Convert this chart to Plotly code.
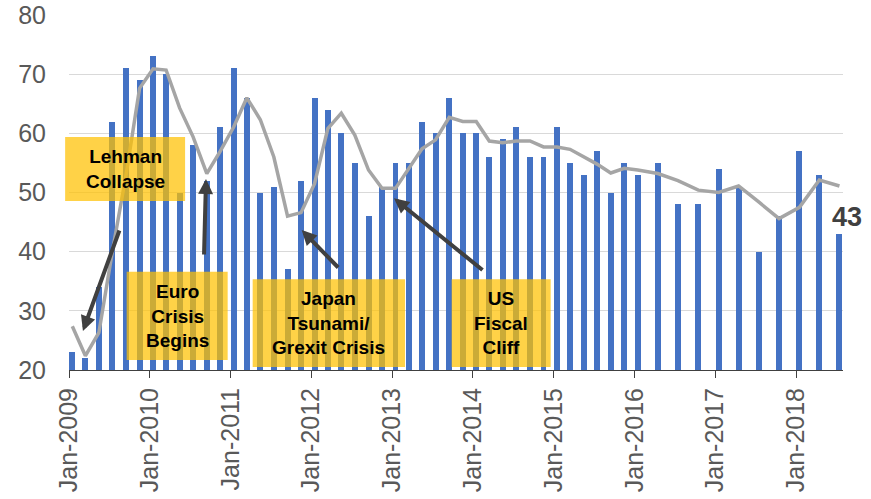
import plotly.graph_objects as go

# Survey month for each reading (bi-monthly to Jan-2016, then quarterly)
months = [
    "2009-01", "2009-03", "2009-05", "2009-07", "2009-09", "2009-11",
    "2010-01", "2010-03", "2010-05", "2010-07", "2010-09", "2010-11",
    "2011-01", "2011-03", "2011-05", "2011-07", "2011-09", "2011-11",
    "2012-01", "2012-03", "2012-05", "2012-07", "2012-09", "2012-11",
    "2013-01", "2013-03", "2013-05", "2013-07", "2013-09", "2013-11",
    "2014-01", "2014-03", "2014-05", "2014-07", "2014-09", "2014-11",
    "2015-01", "2015-03", "2015-05", "2015-07", "2015-09", "2015-11",
    "2016-01", "2016-04", "2016-07", "2016-10",
    "2017-01", "2017-04", "2017-07", "2017-10",
    "2018-01", "2018-04", "2018-07",
]

# Index readings (bars)
readings = [
    23, 22, 34, 62, 71, 69,
    73, 70, 50, 58, 52, 61,
    71, 66, 50, 51, 37, 52,
    66, 64, 60, 55, 46, 51,
    55, 55, 62, 60, 66, 60,
    60, 56, 59, 61, 56, 56,
    61, 55, 53, 57, 50, 55,
    53, 55, 48, 48,
    54, 51, 40, 46,
    57, 53, 43,
]

# Smoothed trend (grey line)
trend = [
    27.4, 22.4, 26.3, 40.0, 53.0, 67.6,
    70.9, 70.7, 64.3, 59.4, 53.2, 57.0,
    61.1, 66.0, 62.3, 56.0, 46.0, 46.6,
    51.5, 60.8, 63.4, 59.7, 53.8, 50.7,
    50.7, 54.1, 57.4, 58.9, 62.7, 62.0,
    62.0, 58.7, 58.4, 58.7, 58.7, 57.7,
    57.7, 57.3, 56.0, 54.8, 53.3, 54.1,
    53.8, 53.2, 52.0, 50.4,
    50.0, 51.1, 48.4, 45.6,
    47.5, 52.1, 51.1,
]

# Event call-outs: label, box (paper x0, x1, y0, y1), arrow head (paper), tail offset (px)
events = [
    ("Lehman<br>Collapse", (-0.005, 0.150, 0.476, 0.656), (0.018, 0.110), (37, -102)),
    ("Euro<br>Crisis<br>Begins", (0.0745, 0.205, 0.028, 0.277), (0.177, 0.538), (-2, 77)),
    ("Japan<br>Tsunami/<br>Grexit Crisis", (0.2373, 0.4341, 0.0085, 0.2555), (0.3006, 0.3944), (38, 39)),
    ("US<br>Fiscal<br>Cliff", (0.4944, 0.6223, 0.0085, 0.2555), (0.4199, 0.4837), (90, 73)),
]

# Bars sit in the middle of their month
x_mid = [m + "-16" for m in months]
DAY_MS = 86400000

fig = go.Figure()
fig.add_trace(go.Bar(
    x=x_mid, y=readings, width=27 * DAY_MS,
    marker=dict(color="#4472C4", line=dict(width=0)),
    hoverinfo="x+y",
))
fig.add_trace(go.Scatter(
    x=x_mid, y=trend, mode="lines",
    line=dict(color="#A5A5A5", width=3.5),
    hoverinfo="x+y",
))

shapes = []
annotations = []
for label, (x0, x1, y0, y1), (hx, hy), (ax, ay) in events:
    shapes.append(dict(
        type="rect", xref="paper", yref="paper",
        x0=x0, x1=x1, y0=y0, y1=y1,
        fillcolor="rgba(255,192,0,0.72)", line=dict(width=0),
        layer="above",
    ))
    annotations.append(dict(
        xref="paper", yref="paper", x=(x0 + x1) / 2, y=(y0 + y1) / 2,
        text="<b>" + label + "</b>", showarrow=False,
        font=dict(family="Liberation Sans, Arial", size=19, color="#000000"),
        align="center", xanchor="center", yanchor="middle",
    ))
    annotations.append(dict(
        xref="paper", yref="paper", x=hx, y=hy, ax=ax, ay=ay,
        text="", showarrow=True, arrowhead=2, arrowsize=0.75,
        arrowwidth=4, arrowcolor="#404040", standoff=0,
    ))

# Latest value label
annotations.append(dict(
    x=x_mid[-1], y=readings[-1], xref="x", yref="y",
    text="<b>%d</b>" % readings[-1], showarrow=False,
    font=dict(family="Liberation Sans, Arial", size=27, color="#404040"),
    xanchor="center", yanchor="middle", xshift=8, yshift=17,
))

fig.update_layout(
    width=871, height=499,
    margin=dict(l=69, r=28, t=15, b=129, autoexpand=False),
    plot_bgcolor="white", paper_bgcolor="white",
    showlegend=False, bargap=0,
    shapes=shapes, annotations=annotations,
    font=dict(family="Liberation Sans, Arial", color="#595959"),
    xaxis=dict(
        type="date", range=["2009-01-01", "2018-08-01"],
        tick0="2009-01-01", dtick="M12", tickformat="%b-%Y",
        tickangle=-90, tickfont=dict(size=25, color="#595959"),
        ticks="outside", ticklen=7, tickcolor="#404040", tickwidth=1,
        showline=True, linecolor="#404040", linewidth=1,
        showgrid=False, zeroline=False, automargin=False,
    ),
    xaxis2=dict(
        type="date", range=["2009-01-01", "2018-08-01"],
        tick0="2009-01-01", dtick="M12", overlaying="x", anchor="y",
        side="bottom", ticks="inside", ticklen=8, tickcolor="#404040",
        tickwidth=1, showticklabels=False, showline=False, showgrid=False,
        zeroline=False, automargin=False,
    ),
    yaxis=dict(
        range=[20, 80], dtick=10, tick0=20,
        tickfont=dict(size=25, color="#595959"),
        showgrid=True, gridcolor="#D9D9D9", gridwidth=1,
        showline=False, zeroline=False, ticks="",
        ticklabelstandoff=22, automargin=False,
    ),
)

fig.write_html("out.html")
